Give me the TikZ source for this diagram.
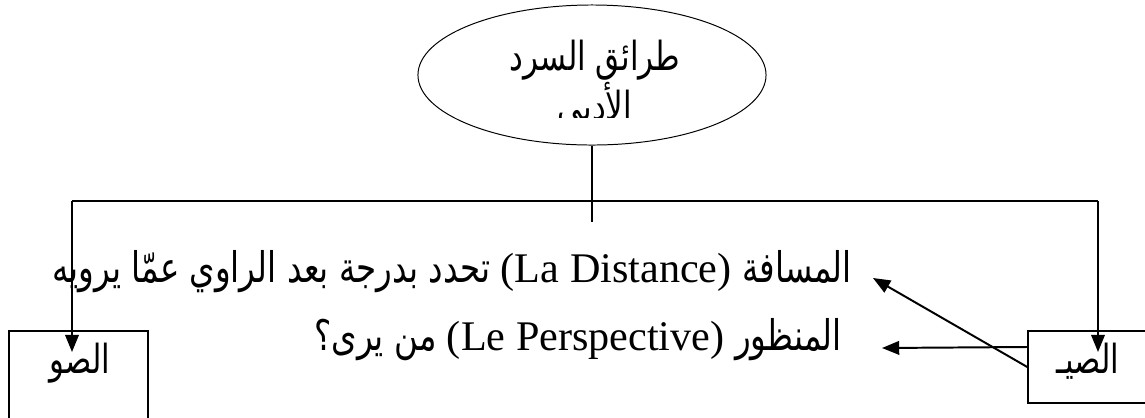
\documentclass[tikz,border=0pt]{standalone}
\usepackage{fontspec}
\setmainfont{Liberation Serif}
\newfontfamily\arabicfont[Script=Arabic,Scale=1.0,FakeStretch=0.77]{DejaVu Sans}
\TeXXeTstate=1
\usetikzlibrary{shapes.geometric,arrows.meta}

\begin{document}
\begin{tikzpicture}[x=0.025cm,y=-0.025cm,font=\fontsize{30}{36}\selectfont,
      >={Triangle[length=4.3mm,width=3.4mm]},
      frame/.style={draw,line width=1pt,inner sep=0pt},
      feed/.style={line width=1.4pt},
      arab/.style={font=\arabicfont\fontsize{28.5}{34}\selectfont,inner sep=0pt}]
      \clip (0,0) rectangle (1145,417);
      % title
      \node[ellipse,draw,line width=.7pt,minimum width=8.7cm,minimum height=3.5cm]
        (kind) at (592,75) {};
      \begin{scope}
        \clip (420,20) rectangle (765,117);
        \node[arab,anchor=base] (kindtop) at (595,70) {\beginR طرائق السرد\endR};
        \node[arab,anchor=base] (kindbottom) at (595,120) {\beginR الأدبي\endR};
      \end{scope}
      % the two boxes
      \node[frame,minimum width=3.475cm,minimum height=2.725cm] (image) at (78.5,385.5) {};
      \node[frame,minimum width=3.05cm,minimum height=1.8cm] (voice) at (1089,367) {};
      \node[arab,anchor=base] (imagetext) at (80,373) {\beginR الصو\endR};
      \node[arab,anchor=base] (voicetext) at (1088,373) {\beginR الصيـ\endR};
      % the two lines
      \node[anchor=base east,inner sep=0pt] (distance) at (852,282)
        {\beginR{\arabicfont المسافة} \beginL(La Distance)\endL{} {\arabicfont تحدد بدرجة بعد الراوي عمّا يرويه}\endR};
      \node[anchor=base east,inner sep=0pt] (perspective) at (842,350)
        {\beginR{\arabicfont المنظور} \beginL(Le Perspective)\endL{} {\arabicfont من يرى؟}\endR};
      % connectors
      \coordinate (stemfoot) at (592,222);
      \coordinate (forkL) at (72,201);
      \coordinate (forkR) at (1098,201);
      \coordinate (tipL) at (72,352);
      \coordinate (tipR) at (1098,352);
      \coordinate (toDistance) at (873,278);
      \coordinate (toPerspective) at (882,348);
      \draw[line width=.8pt] (kind.south) -- (stemfoot);
      \draw[line width=1pt] (forkL) -- (forkR);
      \draw[->,feed] (forkL) -- (tipL);
      \draw[->,feed] (forkR) -- (tipR);
      \draw[->,feed] (voice.west) -- (toDistance);
      \draw[->,feed] ([yshift=.5cm]voice.west) -- (toPerspective);
    \end{tikzpicture}
\end{document}
